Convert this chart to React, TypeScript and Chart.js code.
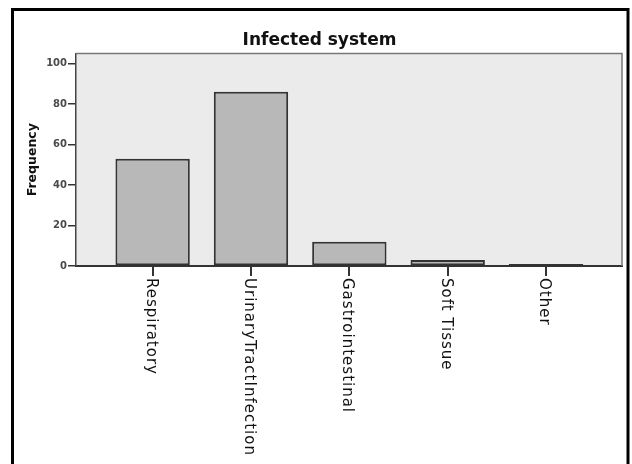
import React, { useEffect, useRef } from 'react';
import { Chart, registerables } from 'chart.js';

Chart.register(...registerables);

const chartTitle = 'Infected system';
const yAxisTitle = 'Frequency';
const categories = ['Respiratory', 'UrinaryTractInfection', 'Gastrointestinal', 'Soft Tissue', 'Other'];
const frequencies = [53, 86, 12, 3, 1];
const yTickValues = [0, 20, 40, 60, 80, 100];

const FONT = '"DejaVu Sans", "Liberation Sans", sans-serif';

export default function App() {
  const ref = useRef<HTMLCanvasElement>(null);

  useEffect(() => {
    document.body.style.margin = '0';
    const canvas = ref.current;
    if (!canvas) return;

    const framePlugin = {
      id: 'frame',
      beforeDraw(chart: any) {
        const { ctx, chartArea: a } = chart;
        ctx.save();
        ctx.fillStyle = '#ffffff';
        ctx.fillRect(0, 0, chart.width, chart.height);
        ctx.fillStyle = '#ebebeb';
        ctx.fillRect(a.left, a.top, a.right - a.left, a.bottom - a.top);
        ctx.strokeStyle = '#000000';
        ctx.lineWidth = 3;
        ctx.strokeRect(12.5, 9.5, 615.5, 520);
        ctx.restore();
      },
      beforeDatasetsDraw(chart: any) {
        const { ctx, chartArea: a } = chart;
        ctx.save();
        ctx.strokeStyle = '#777777';
        ctx.lineWidth = 1.5;
        ctx.beginPath();
        ctx.moveTo(a.left, a.top);
        ctx.lineTo(a.right, a.top);
        ctx.lineTo(a.right, a.bottom);
        ctx.stroke();
        ctx.restore();
      },
      afterDraw(chart: any) {
        const { ctx } = chart;
        const xs = chart.scales.x;
        const bottom = chart.chartArea.bottom;
        ctx.save();
        ctx.font = `15px ${FONT}`;
        (ctx as any).letterSpacing = '1px';
        ctx.fillStyle = '#111111';
        ctx.textAlign = 'left';
        ctx.textBaseline = 'alphabetic';
        categories.forEach((label, i) => {
          const px = xs.getPixelForValue(i);
          ctx.save();
          ctx.translate(px, bottom + 12);
          ctx.rotate(Math.PI / 2);
          ctx.fillText(label, 0, 6);
          ctx.restore();
        });
        ctx.restore();
      },
    };

    const chart = new Chart(canvas, {
      type: 'bar',
      data: {
        datasets: [
          {
            data: frequencies.map((v, i) => ({ x: i, y: v })),
            backgroundColor: '#b8b8b8',
            borderColor: '#333333',
            borderWidth: 2,
            borderSkipped: false,
            barPercentage: 0.756,
            categoryPercentage: 1,
          },
        ],
      },
      options: {
        responsive: false,
        animation: false,
        layout: { padding: { left: 17, right: 10, top: 0, bottom: 0 } },
        plugins: {
          legend: { display: false },
          tooltip: { enabled: false },
          title: {
            display: true,
            text: chartTitle,
            color: '#111111',
            font: { family: FONT, size: 17, weight: 'bold' },
            padding: { top: 30, bottom: 3 },
          },
        },
        scales: {
          x: {
            type: 'linear',
            min: -0.779,
            max: 4.772,
            offset: false,
            grid: {
              display: true,
              offset: false,
              drawOnChartArea: false,
              drawTicks: true,
              tickLength: 10,
              tickColor: '#333333',
              lineWidth: 2,
            },
            border: { display: true, color: '#333333', width: 2 },
            ticks: {
              stepSize: 1,
              includeBounds: false,
              display: false,
            },
            afterFit: (scale: any) => {
              scale.height = 198;
            },
          },
          y: {
            min: 0,
            max: 105,
            grid: {
              display: true,
              drawOnChartArea: false,
              drawTicks: true,
              tickLength: 8,
              tickColor: '#333333',
              lineWidth: 1.5,
            },
            border: { display: true, color: '#444444', width: 1.5 },
            afterBuildTicks: (scale: any) => {
              scale.ticks = yTickValues.map((v) => ({ value: v }));
            },
            ticks: {
              padding: 1,
              color: '#4a4a4a',
              font: { family: FONT, size: 10, weight: 'bold' },
            },
            title: {
              display: true,
              text: yAxisTitle,
              color: '#111111',
              font: { family: FONT, size: 12.5, weight: 'bold' },
              padding: { top: 8, bottom: 0 },
            },
            afterFit: (scale: any) => {
              scale.width = 59;
            },
          },
        },
      },
      plugins: [framePlugin],
    });

    return () => chart.destroy();
  }, []);

  return (
    <div style={{ width: 632, height: 464, overflow: 'hidden' }}>
      <canvas ref={ref} width={632} height={464} style={{ display: 'block' }} />
    </div>
  );
}
